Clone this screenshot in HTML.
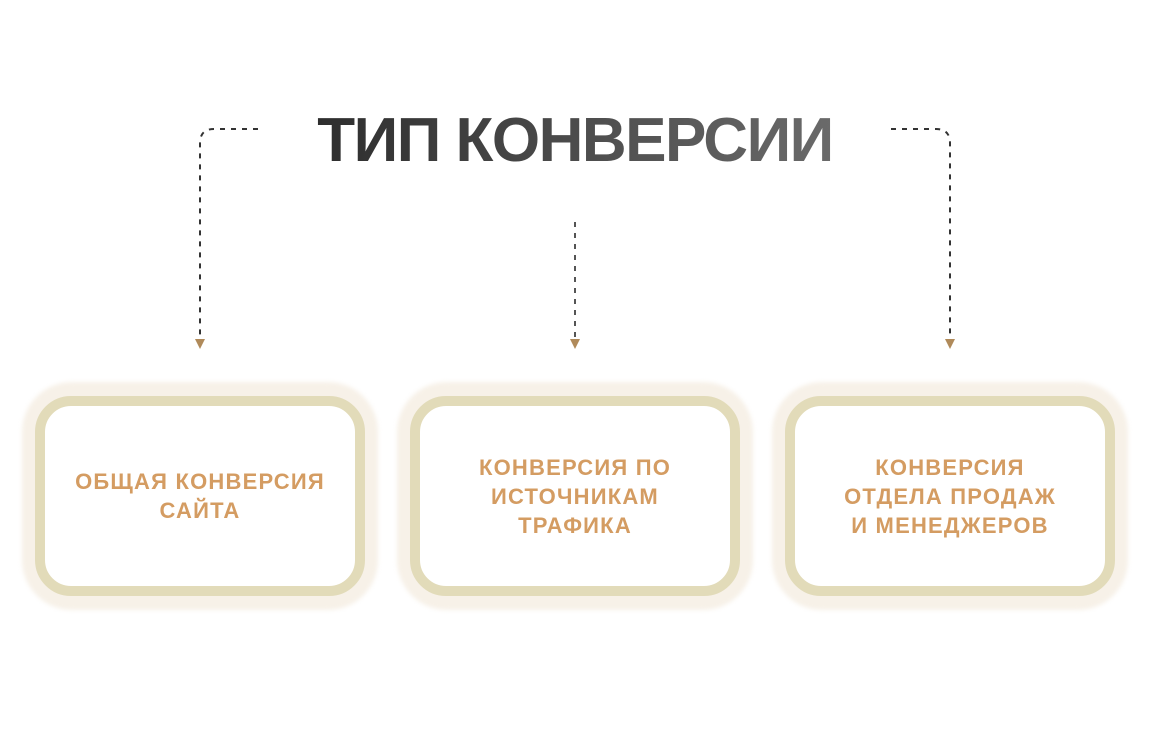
<!DOCTYPE html>
<html><head><meta charset="utf-8"><style>
html,body{margin:0;padding:0;background:#fff;width:1150px;height:740px;overflow:hidden}
.t{position:absolute;left:0;width:1150px;top:105px;text-align:center;font:bold 62px "Liberation Sans",sans-serif;letter-spacing:-1.5px;color:#444}
.glow{position:absolute;top:382px;width:356px;height:228px;border-radius:50px;background:#f7f1e8;filter:blur(2px)}
.box{position:absolute;top:396px;width:310px;height:180px;border:10px solid #e2dbb9;border-radius:36px;background:#fff;display:flex;align-items:center;justify-content:center;text-align:center;font:bold 22px/29px "Liberation Sans",sans-serif;letter-spacing:1.2px;color:#d49c62}
</style></head><body>
<div class="t"><span style="background:linear-gradient(90deg,#2e2e2e,#6a6a6a);-webkit-background-clip:text;background-clip:text;color:transparent">ТИП КОНВЕРСИИ</span></div>
<svg width="1150" height="740" style="position:absolute;left:0;top:0">
<g fill="none" stroke-width="2" stroke-dasharray="5,6">
<path d="M258 129 H214 Q200 129 200 143 V340" stroke="#333"/>
<path d="M575 222 V340" stroke="#555"/>
<path d="M891 129 H936 Q950 129 950 143 V340" stroke="#333"/>
</g>
<g fill="#b08a5a">
<path d="M195 339 H205 L200 349 Z"/><path d="M570 339 H580 L575 349 Z"/><path d="M945 339 H955 L950 349 Z"/>
</g>
</svg>
<div class="glow" style="left:22px"></div>
<div class="glow" style="left:397px"></div>
<div class="glow" style="left:772px"></div>
<div class="box" style="left:35px">ОБЩАЯ КОНВЕРСИЯ<br>САЙТА</div>
<div class="box" style="left:410px">КОНВЕРСИЯ ПО<br>ИСТОЧНИКАМ<br>ТРАФИКА</div>
<div class="box" style="left:785px">КОНВЕРСИЯ<br>ОТДЕЛА ПРОДАЖ<br>И МЕНЕДЖЕРОВ</div>
</body></html>
